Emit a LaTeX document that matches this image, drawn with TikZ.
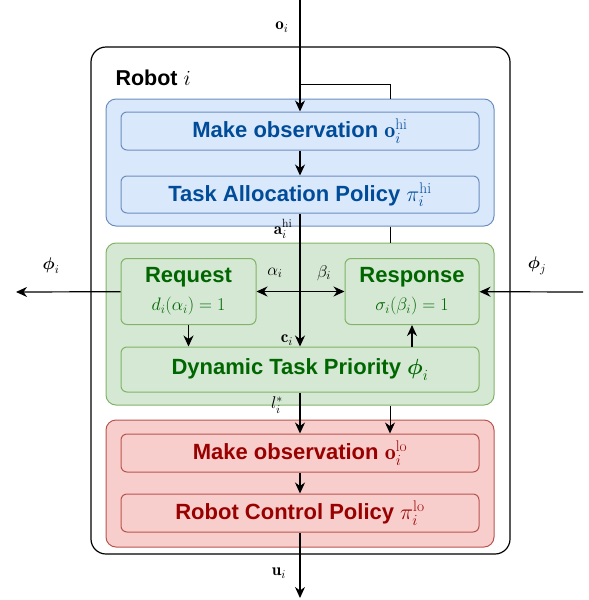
\RequirePackage{fix-cm}
\documentclass[tikz,border=0pt]{standalone}
\usepackage{amsmath}
\usepackage{amssymb}
\usepackage{fontspec}
\setsansfont{Liberation Sans}
\usetikzlibrary{arrows.meta}

\definecolor{hifill}{HTML}{DAE8FC}
\definecolor{hiline}{HTML}{6C8EBF}
\definecolor{hitext}{HTML}{004C99}
\definecolor{midfill}{HTML}{D5E8D4}
\definecolor{midline}{HTML}{82B366}
\definecolor{midtext}{HTML}{006600}
\definecolor{lofill}{HTML}{F8CECC}
\definecolor{loline}{HTML}{B85450}
\definecolor{lotext}{HTML}{990000}

\begin{document}
\begin{tikzpicture}[x=1pt, y=-1pt,
        >={Stealth[length=11pt, width=10pt, inset=3.5pt]},
        flow/.style={line width=1.2pt},
        grp/.style={draw=#1line, fill=#1fill, line width=1pt, rounded corners=10pt,
            minimum width=388pt, minimum height=127pt, inner sep=0pt},
        blk/.style={draw=#1line, fill=#1fill, line width=1pt, rounded corners=6pt,
            text=#1text, font=\sffamily\bfseries\fontsize{22}{26}\selectfont,
            minimum width=358pt, minimum height=38pt, inner sep=0pt, align=center},
        lbl/.style={font=\fontsize{17}{20}\selectfont, inner sep=1pt}]
        \useasboundingbox (0,0) rectangle (589,600);

        % Robot frame
        \node[draw, line width=1.2pt, rounded corners=15pt, minimum width=419pt,
            minimum height=507pt] (robot) at (300.5,300.5) {};
        \node[anchor=base west, font=\sffamily\bfseries\fontsize{21.5}{25}\selectfont]
            (title) at (112,85) {Robot $i$};

        % Three levels
        \node[grp=hi] (hi) at (300,162.5) {};
        \node[grp=mid, minimum height=162pt] (mid) at (300,324) {};
        \node[grp=lo] (lo) at (300,483.5) {};

        \node[blk=hi] (obshi) at (300,131) {Make observation $\mathbf{o}_i^{\mathrm{hi}}$};
        \node[blk=hi, minimum height=37pt] (tap) at (300,194.5) {Task Allocation Policy $\pi_i^{\mathrm{hi}}$};

        \node[blk=mid, minimum width=135pt, minimum height=66pt] (req) at (188.5,291.5)
            {Request\\[2pt]{\mdseries\fontsize{18}{21}\selectfont $d_i(\alpha_i)=1$}};
        \node[blk=mid, minimum width=134pt, minimum height=66pt] (resp) at (412,291.5)
            {Response\\[2pt]{\mdseries\fontsize{18}{21}\selectfont $\sigma_i(\beta_i)=1$}};
        \node[blk=mid, minimum height=45pt] (dtp) at (300,369.5) {Dynamic Task Priority $\boldsymbol{\phi}_i$};

        \node[blk=lo] (obslo) at (300,453) {Make observation $\mathbf{o}_i^{\mathrm{lo}}$};
        \node[blk=lo] (rcp) at (300,513) {Robot Control Policy $\pi_i^{\mathrm{lo}}$};

        % Free ends
        \coordinate (otop) at (300,0);
        \coordinate (uend) at (300,598);
        \coordinate (fork) at (390,84);
        \coordinate (phiout) at (16,292);
        \coordinate (phiin) at (583,292);

        % Observation passed on to the low level
        \draw[line width=0.9pt] (otop |- fork) -- (fork) -- (fork |- hi.north);
        \draw[line width=0.9pt] (fork |- hi.south) -- (fork |- mid.north);
        \draw[line width=0.9pt, ->] (fork |- mid.south) -- (fork |- obslo.north);

        % Main flow
        \draw[flow, ->] (otop) -- (obshi);
        \draw[flow, ->] (obshi) -- (tap);
        \draw[flow, ->] (tap) -- (dtp);
        \draw[flow, ->] (dtp) -- (obslo);
        \draw[flow, ->] (obslo) -- (rcp);
        \draw[flow, ->] (rcp) -- (uend);

        % Messages between robots
        \draw[flow, ->] (req) -- (phiout);
        \draw[flow, ->] (phiin) -- (resp);
        \draw[flow, <->] (req) -- (resp);
        \draw[flow, ->] (req.south) -- (req.south |- dtp.north);
        \draw[flow, ->] (resp.south |- dtp.north) -- (resp.south);

        % Signal labels
        \node[lbl] (lo_i) at (282,27) {$\mathbf{o}_i$};
        \node[lbl] (la_i) at (283,229) {$\mathbf{a}_i^{\mathrm{hi}}$};
        \node[lbl] (lalpha) at (275,273) {$\alpha_i$};
        \node[lbl] (lbeta) at (324,273) {$\beta_i$};
        \node[lbl] (lc_i) at (287,340) {$\mathbf{c}_i$};
        \node[lbl] (ll_i) at (277,405) {$l_i^*$};
        \node[lbl] (lu_i) at (279,573) {$\mathbf{u}_i$};
        \node[lbl] (lphi_i) at (51,266) {$\boldsymbol{\phi}_i$};
        \node[lbl] (lphi_j) at (537,266) {$\boldsymbol{\phi}_j$};
    \end{tikzpicture}
\end{document}
